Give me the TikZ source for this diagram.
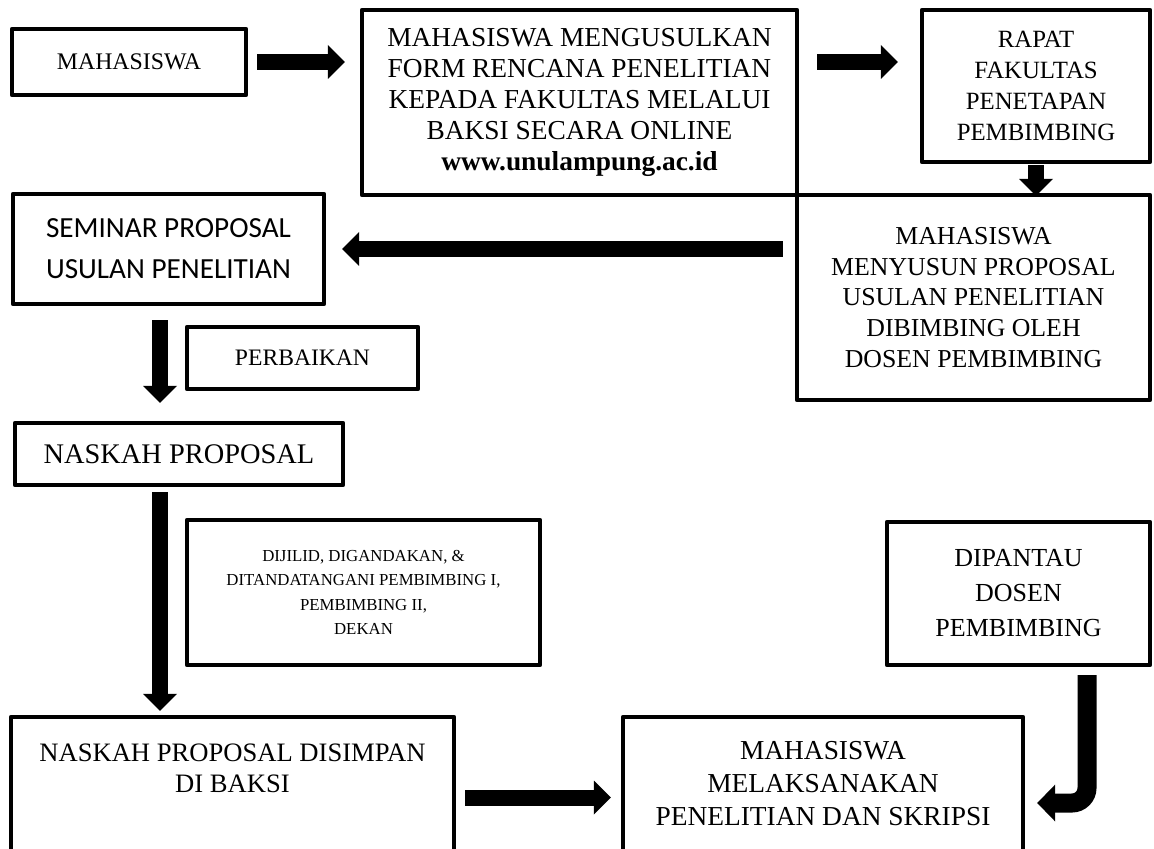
\documentclass[tikz,border=0pt]{standalone}
\usepackage{fontspec}
\setmainfont{Liberation Serif}
\newfontfamily\carlito{Carlito}
\usetikzlibrary{arrows.meta}

\begin{document}
\begin{tikzpicture}[x=0.5pt,y=-0.5pt,
    box/.style={draw,line width=2.2pt,line join=round,align=center,inner sep=0pt},
    blockarrow/.style={line width=8pt,-{Triangle[width=17pt,length=8.5pt,line width=0pt]}},
    hookarrow/.style={line width=9.5pt,rounded corners=7.5pt,-{Triangle[width=18.5pt,length=9pt,line width=0pt]}}]
  \useasboundingbox (0,0) rectangle (1154,849);
  % top row
  \node[box,minimum width=117pt,minimum height=33pt,font=\fontsize{11.9}{14}\selectfont] (mhs) at (129,62) {MAHASISWA};
  \node[box,minimum width=217.5pt,minimum height=92.5pt,font=\fontsize{13.7}{15.5}\selectfont] (usul) at (579.5,102.5)
    {MAHASISWA MENGUSULKAN\\FORM RENCANA PENELITIAN\\KEPADA FAKULTAS MELALUI\\BAKSI SECARA ONLINE\\\textbf{www.unulampung.ac.id}};
  \node[box,minimum width=114pt,minimum height=76pt,font=\fontsize{12.4}{15.5}\selectfont] (rapat) at (1036,86)
    {RAPAT\\FAKULTAS\\PENETAPAN\\PEMBIMBING};
  % second row
  \node[box,minimum width=176.5pt,minimum height=102.5pt,font=\fontsize{12.9}{15.3}\selectfont] (susun) at (973.5,297.5)
    {MAHASISWA\\MENYUSUN PROPOSAL\\USULAN PENELITIAN\\DIBIMBING OLEH\\DOSEN PEMBIMBING};
  \node[box,minimum width=155.5pt,minimum height=55pt,font=\carlito\fontsize{14.6}{20.5}\selectfont] (seminar) at (168.5,249)
    {SEMINAR PROPOSAL\\USULAN PENELITIAN};
  \node[box,minimum width=115.5pt,minimum height=31pt,font=\fontsize{11.8}{14}\selectfont] (perbaikan) at (302.5,358) {PERBAIKAN};
  \node[box,minimum width=164pt,minimum height=31pt,font=\fontsize{14.2}{15}\selectfont] (naskah) at (179,454) {NASKAH PROPOSAL};
  % third row
  \node[box,minimum width=176.5pt,minimum height=72.5pt,font=\fontsize{8.4}{12.3}\selectfont] (jilid) at (363.5,592.5)
    {DIJILID, DIGANDAKAN, \&\\DITANDATANGANI PEMBIMBING I,\\PEMBIMBING II,\\DEKAN};
  \node[box,minimum width=131.5pt,minimum height=71.5pt,font=\fontsize{13}{17.5}\selectfont] (pantau) at (1018.5,593.5)
    {DIPANTAU\\DOSEN\\PEMBIMBING};
  % bottom row
  \node[box,minimum width=221.5pt,minimum height=67pt,font=\fontsize{13.3}{15.5}\selectfont] (simpan) at (232.5,784)
    {NASKAH PROPOSAL DISIMPAN\\DI BAKSI\\~};
  \node[box,minimum width=200pt,minimum height=67pt,font=\fontsize{13.7}{16.5}\selectfont] (laksana) at (823,784)
    {MAHASISWA\\MELAKSANAKAN\\PENELITIAN DAN SKRIPSI};
  % helper coordinates
  \coordinate (lane) at (160,0);
  \coordinate (bot) at (0,797.5);
  \coordinate (hx) at (1087,0);
  \coordinate (hy) at (0,803);
  % arrows
  \draw[blockarrow,shorten <=4.5pt,shorten >=7.5pt] (mhs.east) -- (mhs.east -| usul.west);
  \draw[blockarrow,shorten <=9pt,shorten >=11pt] (usul.east |- mhs.east) -- (rapat.west |- mhs.east);
  \draw[blockarrow,shorten <=0.5pt,shorten >=-1.5pt] (rapat.south) -- (rapat.south |- susun.north);
  \draw[blockarrow,shorten <=6pt,shorten >=8pt] (susun.west |- seminar.east) -- (seminar.east);
  \draw[blockarrow,shorten <=7pt,shorten >=9pt] (seminar.south -| lane) -- (naskah.north -| lane);
  \draw[blockarrow,shorten <=2.5pt,shorten >=2pt] (naskah.south -| lane) -- (simpan.north -| lane);
  \draw[blockarrow,shorten <=4.5pt,shorten >=5pt] (simpan.east |- bot) -- (laksana.west |- bot);
  \draw[hookarrow,shorten <=4pt,shorten >=6pt] (pantau.south -| hx) |- (laksana.east |- hy);
\end{tikzpicture}
\end{document}
